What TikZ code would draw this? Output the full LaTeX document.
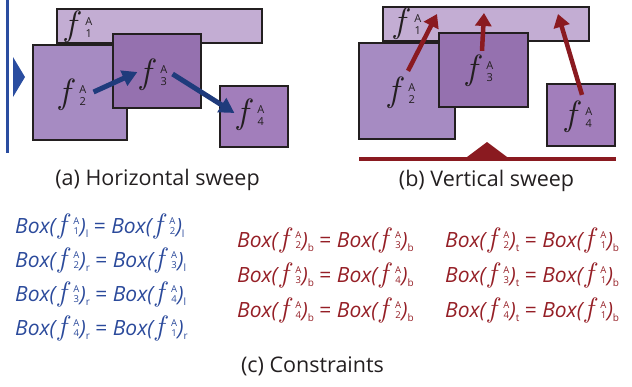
\documentclass[tikz,border=0pt]{standalone}
\usepackage{fontspec}
\setmainfont{Open Sans}
\newfontfamily\lmit{lmroman10-italic.otf}
\usepackage{tikz}
\usetikzlibrary{arrows.meta,positioning}

\definecolor{fone}{HTML}{C3ADD3}
\definecolor{ftwo}{HTML}{A68BC2}
\definecolor{fthree}{HTML}{9571AF}
\definecolor{ffour}{HTML}{A27EBB}
\definecolor{edge}{HTML}{231F20}
\definecolor{capgray}{HTML}{231F20}
\definecolor{sweepblue}{HTML}{2A4DA0}
\definecolor{navy}{HTML}{1F3B7C}
\definecolor{eqblue}{HTML}{2B4A9B}
\definecolor{darkred}{HTML}{8A1A20}
\definecolor{eqred}{HTML}{951F26}

\newcommand{\stackA}[1]{\begin{tabular}[c]{@{}c@{}}A\\[0.05em]#1\end{tabular}}
\newcommand{\flab}[1]{{\fontsize{35}{35}\lmit f}\kern9pt\raisebox{4pt}{\fontsize{11}{11}\selectfont\stackA{#1}}}
\newcommand{\feq}[1]{{\fontsize{28}{28}\lmit f}\kern7pt\raisebox{3pt}{\fontsize{9.5}{9.5}\selectfont\stackA{#1}}}
\newcommand{\bx}[2]{\textit{Box(}\kern0.5pt\feq{#1}\kern0.5pt\textit{)}\raisebox{-4pt}{\fontsize{10}{10}\selectfont #2}}

\begin{document}
\begin{tikzpicture}[x=1pt,y=-1pt,
    box/.style={draw=edge, line width=2.3pt, inner sep=0pt},
    lab/.style={inner sep=0pt, text=edge},
    eqn/.style={inner sep=0pt, anchor=west, font=\fontsize{21}{25}\selectfont},
    captext/.style={inner sep=0pt, text=capgray, font=\fontsize{21.5}{25}\selectfont},
    bluearrow/.style={-{Triangle[length=15pt,width=16pt]}, line width=5pt, draw=navy},
    redarrow/.style={-{Triangle[length=13pt,width=16pt]}, line width=4.5pt, draw=darkred}]

\useasboundingbox (0,0) rectangle (632,386);

% (a) horizontal sweep
\draw[line width=3pt, sweepblue] (7,0) -- (7,153);
\fill[sweepblue] (13,57) -- (25,77) -- (13,97) -- cycle;

\node[box, fill=fone, minimum width=205pt, minimum height=34pt] (A1) at (159.5,26) {};
\node[box, fill=ftwo, minimum width=94pt, minimum height=95pt] (A2) at (80,92.5) {};
\node[box, fill=fthree, minimum width=88pt, minimum height=74pt] (A3) at (157,71) {};
\node[box, fill=ffour, minimum width=68pt, minimum height=61pt] (A4) at (254,116.5) {};

\node[lab] (a1) at (79,27) {\flab{1}};
\node[lab] (a2) at (73,95) {\flab{2}};
\node[lab] (a3) at (154,75) {\flab{3}};
\node[lab] (a4) at (251,115) {\flab{4}};

\draw[bluearrow] ([xshift=7pt,yshift=3pt]a2.east) -- ([xshift=-3pt,yshift=3pt]a3.west);
\draw[bluearrow] ([xshift=5pt,yshift=1pt]a3.east) -- ([xshift=-3pt,yshift=2pt]a4.west);

% (b) vertical sweep
\draw[line width=3.5pt, darkred] (359,159) -- (616,159);
\fill[darkred] (467,157) -- (487,142) -- (507,157) -- cycle;

\node[box, fill=fone, minimum width=206pt, minimum height=34pt] (B1) at (486,24) {};
\node[box, fill=ftwo, minimum width=96pt, minimum height=96pt] (B2) at (407,91) {};
\node[box, fill=fthree, minimum width=89pt, minimum height=74pt] (B3) at (483.5,70) {};
\node[box, fill=ffour, minimum width=68pt, minimum height=62pt] (B4) at (581,115) {};

\node[lab] (b1) at (408,24) {\flab{1}};
\node[lab] (b2) at (402,93) {\flab{2}};
\node[lab] (b3) at (480,71) {\flab{3}};
\node[lab] (b4) at (579,117) {\flab{4}};

\coordinate (t2) at (437,14);
\coordinate (t3) at (484,13);
\coordinate (t4) at (558,14);

\draw[redarrow] ([xshift=6pt,yshift=6pt]b2.north) -- (t2);
\draw[redarrow] ([xshift=2pt,yshift=4pt]b3.north) -- (t3);
\draw[redarrow] ([xshift=3pt,yshift=6pt]b4.north) -- (t4);

% captions
\node[captext] (capa) at (157.5,180) {(a) Horizontal sweep};
\node[captext] (capb) at (486.5,181) {(b) Vertical sweep};
\node[captext] (capc) at (312.5,366) {(c) Constraints};

% (c) constraints
\node[eqn, text=eqblue] (h1) at (15,226) {\bx{1}{l} = \bx{2}{l}};
\node[eqn, text=eqblue] (h2) at (15,260) {\bx{2}{r} = \bx{3}{l}};
\node[eqn, text=eqblue] (h3) at (15,294) {\bx{3}{r} = \bx{4}{l}};
\node[eqn, text=eqblue] (h4) at (15,328) {\bx{4}{r} = \bx{1}{r}};

\node[eqn, text=eqred] (v1) at (237,240) {\bx{2}{b} = \bx{3}{b}};
\node[eqn, text=eqred] (v2) at (237,275) {\bx{3}{b} = \bx{4}{b}};
\node[eqn, text=eqred] (v3) at (237,310) {\bx{4}{b} = \bx{2}{b}};
\node[eqn, text=eqred] (w1) at (445,240) {\bx{2}{t} = \bx{1}{b}};
\node[eqn, text=eqred] (w2) at (445,275) {\bx{3}{t} = \bx{1}{b}};
\node[eqn, text=eqred] (w3) at (445,310) {\bx{4}{t} = \bx{1}{b}};

\end{tikzpicture}
\end{document}
